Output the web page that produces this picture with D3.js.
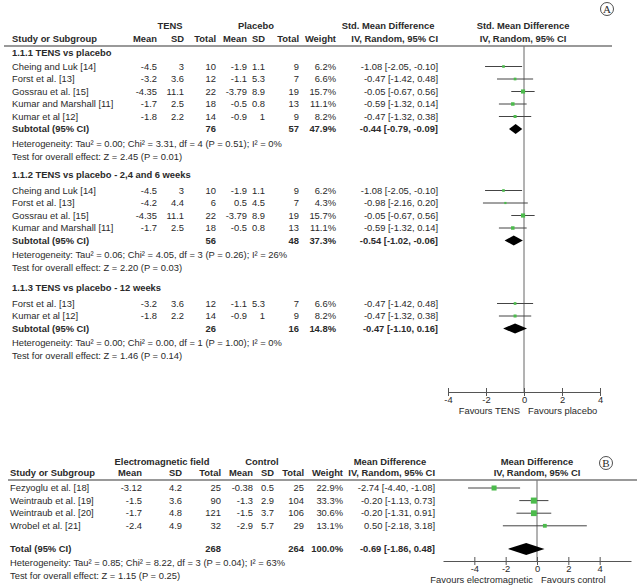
<!DOCTYPE html>
<html>
<head>
<meta charset="utf-8">
<script src="https://cdn.jsdelivr.net/npm/d3@7"></script>
<style>
  body { margin: 0; background: #fff; }
  text { font-family: "Liberation Sans", Arial, sans-serif; font-size: 9.4px; fill: #2a2a2a; }
  .b { font-weight: bold; }
</style>
</head>
<body>
<div id="forest"></div>
<script>
// ---- panel A data (TENS vs placebo) ----
var groupTitlesA = ["1.1.1 TENS vs placebo", "1.1.2 TENS vs placebo - 2,4 and 6 weeks", "1.1.3 TENS vs placebo - 12 weeks"];

// study, mean1, sd1, n1, mean2, sd2, n2, weight, est, lo, hi
var group1 = [
  ["Cheing and Luk [14]", "-4.5", "3", 10, "-1.9", "1.1", 9, 6.2, -1.08, -2.05, -0.10],
  ["Forst et al. [13]", "-3.2", "3.6", 12, "-1.1", "5.3", 7, 6.6, -0.47, -1.42, 0.48],
  ["Gossrau et al. [15]", "-4.35", "11.1", 22, "-3.79", "8.9", 19, 15.7, -0.05, -0.67, 0.56],
  ["Kumar and Marshall [11]", "-1.7", "2.5", 18, "-0.5", "0.8", 13, 11.1, -0.59, -1.32, 0.14],
  ["Kumar et al [12]", "-1.8", "2.2", 14, "-0.9", "1", 9, 8.2, -0.47, -1.32, 0.38]
];
var group2 = [
  ["Cheing and Luk [14]", "-4.5", "3", 10, "-1.9", "1.1", 9, 6.2, -1.08, -2.05, -0.10],
  ["Forst et al. [13]", "-4.2", "4.4", 6, "0.5", "4.5", 7, 4.3, -0.98, -2.16, 0.20],
  ["Gossrau et al. [15]", "-4.35", "11.1", 22, "-3.79", "8.9", 19, 15.7, -0.05, -0.67, 0.56],
  ["Kumar and Marshall [11]", "-1.7", "2.5", 18, "-0.5", "0.8", 13, 11.1, -0.59, -1.32, 0.14]
];
var group3 = [
  ["Forst et al. [13]", "-3.2", "3.6", 12, "-1.1", "5.3", 7, 6.6, -0.47, -1.42, 0.48],
  ["Kumar et al [12]", "-1.8", "2.2", 14, "-0.9", "1", 9, 8.2, -0.47, -1.32, 0.38]
];
// n1, n2, weight, est, lo, hi
var subtotalsA = [
  [76, 57, 47.9, -0.44, -0.79, -0.09],
  [56, 48, 37.3, -0.54, -1.02, -0.06],
  [26, 16, 14.8, -0.47, -1.10, 0.16]
];
var heteroA = [
  "Heterogeneity: Tau\u00b2 = 0.00; Chi\u00b2 = 3.31, df = 4 (P = 0.51); I\u00b2 = 0%",
  "Heterogeneity: Tau\u00b2 = 0.06; Chi\u00b2 = 4.05, df = 3 (P = 0.26); I\u00b2 = 26%",
  "Heterogeneity: Tau\u00b2 = 0.00; Chi\u00b2 = 0.00, df = 1 (P = 1.00); I\u00b2 = 0%"
];
var effectA = [
  "Test for overall effect: Z = 2.45 (P = 0.01)",
  "Test for overall effect: Z = 2.20 (P = 0.03)",
  "Test for overall effect: Z = 1.46 (P = 0.14)"
];
var ticksA = [-4, -2, 0, 2, 4];

// ---- panel B data (electromagnetic field vs control) ----
var studiesB = [
  ["Fezyoglu et al. [18]", "-3.12", "4.2", 25, "-0.38", "0.5", 25, 22.9, -2.74, -4.40, -1.08],
  ["Weintraub et al. [19]", "-1.5", "3.6", 90, "-1.3", "2.9", 104, 33.3, -0.20, -1.13, 0.73],
  ["Weintraub et al. [20]", "-1.7", "4.8", 121, "-1.5", "3.7", 106, 30.6, -0.20, -1.31, 0.91],
  ["Wrobel et al. [21]", "-2.4", "4.9", 32, "-2.9", "5.7", 29, 13.1, 0.50, -2.18, 3.18]
];
var totalB = [268, 264, 100.0, -0.69, -1.86, 0.48];
var heteroB = "Heterogeneity: Tau\u00b2 = 0.85; Chi\u00b2 = 8.22, df = 3 (P = 0.04); I\u00b2 = 63%";
var effectB = "Test for overall effect: Z = 1.15 (P = 0.25)";
var ticksB = [-4, -2, 0, 2, 4];

var green = "#4cbb4c";
var width = 637, height = 586;

var svg = d3.select("#forest")
  .append("svg")
    .attr("width", width)
    .attr("height", height);

// plain hyphen minus like the original, not d3's unicode minus
function fmt(v) { return v.toFixed(2); }
function ciText(e, l, h) { return fmt(e) + " [" + fmt(l) + ", " + fmt(h) + "]"; }

function txt(g, x, y, s, anchor, bold) {
  return g.append("text")
    .attr("x", x).attr("y", y).attr("dy", "0.35em")
    .attr("text-anchor", anchor || "start")
    .attr("class", bold ? "b" : null)
    .text(s);
}

function circleLabel(cx, cy, letter) {
  svg.append("circle").attr("cx", cx).attr("cy", cy).attr("r", 6.5)
    .attr("fill", "none").attr("stroke", "#222").attr("stroke-width", 0.8);
  svg.append("text").attr("x", cx).attr("y", cy).attr("dy", "0.36em")
    .attr("text-anchor", "middle")
    .style("font-family", "'Liberation Serif', serif").style("font-size", "11px")
    .text(letter);
}

// draws one study row; col = column x positions
function studyRow(g, d, y, col, x) {
  txt(g, col.name, y, d[0]);
  txt(g, col.m1, y, d[1], "end");
  txt(g, col.sd1, y, d[2], "end");
  txt(g, col.n1, y, d[3], "end");
  txt(g, col.m2, y, d[4], "end");
  txt(g, col.sd2, y, d[5], "end");
  txt(g, col.n2, y, d[6], "end");
  txt(g, col.w, y, d[7].toFixed(1) + "%", "end");
  txt(g, col.ci, y, ciText(d[8], d[9], d[10]), "end");

  g.append("line")
    .attr("x1", x(d[9])).attr("x2", x(d[10]))
    .attr("y1", y).attr("y2", y)
    .attr("stroke", "#444").attr("stroke-width", 1);
  var s = Math.max(2, 1.05 * Math.sqrt(d[7]));
  g.append("rect")
    .attr("x", x(d[8]) - s / 2).attr("y", y - s / 2)
    .attr("width", s).attr("height", s)
    .attr("fill", green);
}

function totalRow(g, label, d, y, col, x, h) {
  txt(g, col.name, y, label, "start", true);
  txt(g, col.n1, y, d[0], "end", true);
  txt(g, col.n2, y, d[1], "end", true);
  txt(g, col.w, y, d[2].toFixed(1) + "%", "end", true);
  txt(g, col.ci, y, ciText(d[3], d[4], d[5]), "end", true);
  var pts = [[x(d[4]), y], [x(d[3]), y - h], [x(d[5]), y], [x(d[3]), y + h]];
  g.append("path")
    .attr("d", d3.line()(pts) + "Z")
    .attr("fill", "#000");
}

function drawAxis(g, x, y, ticks, leftLabel, rightLabel) {
  var ax = g.append("g")
    .attr("transform", "translate(0," + y + ")")
    .call(d3.axisBottom(x).tickValues(ticks).tickSize(4).tickSizeOuter(0)
      .tickFormat(function(d) { return String(d); }));
  ax.select(".domain").attr("stroke", "#555");
  ax.selectAll(".tick line").attr("y1", -4).attr("y2", 4).attr("stroke", "#555");
  ax.selectAll(".tick text").attr("y", 4).attr("dy", "0.71em")
    .style("font-family", "'Liberation Sans', Arial, sans-serif").style("font-size", "9.4px").attr("fill", "#2a2a2a");
  var z = x(0);
  txt(g, z - 4, y + 19, leftLabel, "end");
  txt(g, z + 4, y + 19, rightLabel, "start");
}

// ================= PANEL A =================
var gA = svg.append("g");
var colA = {name: 12, m1: 157, sd1: 184, n1: 216, m2: 247, sd2: 265, n2: 299, w: 336, ci: 438};
var xA = d3.scaleLinear().domain([-4, 4]).range([448, 600]);
var axisYA = 392, headLineA = 46;

txt(gA, 170, 26, "TENS", "middle", true);
txt(gA, 256, 26, "Placebo", "middle", true);
txt(gA, 388, 26, "Std. Mean Difference", "middle", true);
txt(gA, 523, 26, "Std. Mean Difference", "middle", true);
txt(gA, colA.name, 39, "Study or Subgroup", "start", true);
txt(gA, colA.m1, 39, "Mean", "end", true);
txt(gA, colA.sd1, 39, "SD", "end", true);
txt(gA, colA.n1, 39, "Total", "end", true);
txt(gA, colA.m2, 39, "Mean", "end", true);
txt(gA, colA.sd2, 39, "SD", "end", true);
txt(gA, colA.n2, 39, "Total", "end", true);
txt(gA, colA.w, 39, "Weight", "end", true);
txt(gA, colA.ci, 39, "IV, Random, 95% CI", "end", true);
txt(gA, 523, 39, "IV, Random, 95% CI", "middle", true);

gA.append("line").attr("x1", xA(0)).attr("x2", xA(0))
  .attr("y1", headLineA).attr("y2", axisYA)
  .attr("stroke", "#666").attr("stroke-width", 1);
gA.append("line").attr("x1", 4).attr("x2", 612)
  .attr("y1", headLineA).attr("y2", headLineA)
  .attr("stroke", "#777").attr("stroke-width", 1.5);

var groupsA = [group1, group2, group3];
var headerY = [53, 174.5, 287.5];
groupsA.forEach(function(rows, gi) {
  var y = headerY[gi];
  txt(gA, colA.name, y, groupTitlesA[gi], "start", true);
  y += gi === 0 ? 13.5 : 16;
  rows.forEach(function(d) {
    studyRow(gA, d, y, colA, xA);
    y += 12.5;
  });
  totalRow(gA, "Subtotal (95% CI)", subtotalsA[gi], y, colA, xA, 5);
  y += 14.5;
  txt(gA, colA.name, y, heteroA[gi]);
  y += 13;
  txt(gA, colA.name, y, effectA[gi]);
});

drawAxis(gA, xA, axisYA, ticksA, "Favours TENS", "Favours placebo");
circleLabel(607, 9, "A");

// ================= PANEL B =================
var gB = svg.append("g");
var colB = {name: 10, m1: 142, sd1: 182, n1: 221, m2: 253, sd2: 274, n2: 304, w: 343, ci: 435};
var xB = d3.scaleLinear().domain([-6, 6]).range([443, 631]);
var axisYB = 561, headLineB = 480;

txt(gB, 162, 462, "Electromagnetic field", "middle", true);
txt(gB, 262, 462, "Control", "middle", true);
txt(gB, 390, 462, "Mean Difference", "middle", true);
txt(gB, 537, 462, "Mean Difference", "middle", true);
txt(gB, colB.name, 473, "Study or Subgroup", "start", true);
txt(gB, colB.m1, 473, "Mean", "end", true);
txt(gB, colB.sd1, 473, "SD", "end", true);
txt(gB, colB.n1, 473, "Total", "end", true);
txt(gB, colB.m2, 473, "Mean", "end", true);
txt(gB, colB.sd2, 473, "SD", "end", true);
txt(gB, colB.n2, 473, "Total", "end", true);
txt(gB, colB.w, 473, "Weight", "end", true);
txt(gB, colB.ci, 473, "IV, Random, 95% CI", "end", true);
txt(gB, 537, 473, "IV, Random, 95% CI", "middle", true);

gB.append("line").attr("x1", xB(0)).attr("x2", xB(0))
  .attr("y1", headLineB).attr("y2", axisYB)
  .attr("stroke", "#666").attr("stroke-width", 1);
gB.append("line").attr("x1", 8).attr("x2", 637)
  .attr("y1", headLineB).attr("y2", headLineB)
  .attr("stroke", "#777").attr("stroke-width", 1.5);

var yB = 488;
studiesB.forEach(function(d) {
  studyRow(gB, d, yB, colB, xB);
  yB += 12.6;
});
yB += 10.5;
totalRow(gB, "Total (95% CI)", totalB, yB, colB, xB, 6);
txt(gB, colB.name, yB + 14, heteroB);
txt(gB, colB.name, yB + 27, effectB);

drawAxis(gB, xB, axisYB, ticksB, "Favours electromagnetic", "Favours control");
circleLabel(606, 463, "B");
</script>
</body>
</html>
